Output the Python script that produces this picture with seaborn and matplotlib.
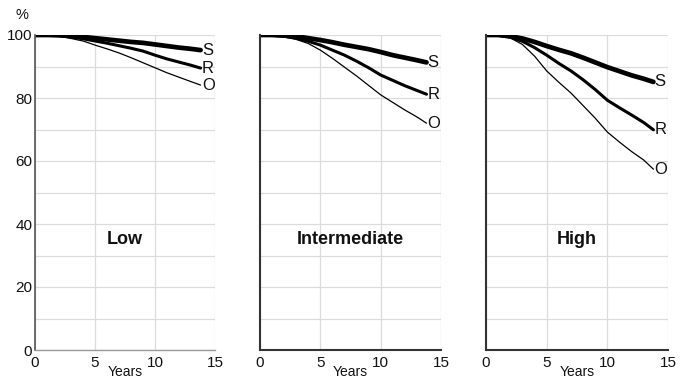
import matplotlib
matplotlib.use("Agg")
import matplotlib.pyplot as plt
import seaborn as sns
import pandas as pd

years = [0, 1, 2, 3, 4, 5, 6, 7, 8, 9, 10, 11, 12, 13, 13.8]

low_S = [100, 100, 99.9, 99.7, 99.4, 99.0, 98.6, 98.2, 97.8, 97.5, 97.0, 96.5, 96.0, 95.6, 95.2]
low_R = [100, 100, 99.8, 99.4, 98.8, 98.1, 97.4, 96.6, 95.8, 94.9, 93.6, 92.4, 91.4, 90.4, 89.5]
low_O = [100, 100, 99.6, 98.9, 98.1, 96.8, 95.6, 94.3, 92.8, 91.2, 89.6, 88.0, 86.6, 85.2, 84.1]

int_S = [100, 100, 99.8, 99.6, 99.0, 98.4, 97.7, 96.9, 96.2, 95.5, 94.6, 93.6, 92.8, 92.0, 91.3]
int_R = [100, 99.9, 99.6, 99.0, 98.0, 96.8, 95.2, 93.6, 91.7, 89.6, 87.3, 85.6, 83.9, 82.4, 81.2]
int_O = [100, 99.9, 99.4, 98.6, 97.3, 95.2, 92.6, 89.8, 87.0, 84.0, 81.0, 78.6, 76.2, 74.0, 72.0]

high_S = [100, 100, 99.6, 98.9, 97.8, 96.5, 95.3, 94.2, 92.8, 91.3, 89.8, 88.5, 87.2, 86.1, 85.1]
high_R = [100, 99.9, 99.3, 98.0, 96.0, 93.6, 91.0, 88.6, 85.8, 82.7, 79.3, 76.9, 74.6, 72.2, 69.9]
high_O = [100, 99.8, 99.1, 97.0, 93.3, 88.6, 85.0, 81.6, 77.6, 73.6, 69.2, 66.0, 63.0, 60.3, 57.4]

panels = ["Low", "Intermediate", "High"]
series_names = ["S", "R", "O"]
data = {
    "Low": [low_S, low_R, low_O],
    "Intermediate": [int_S, int_R, int_O],
    "High": [high_S, high_R, high_O],
}
x_ticks = [0, 5, 10, 15]
y_ticks = [0, 20, 40, 60, 80, 100]

sns.set_theme(style="white")
plt.rcParams["font.family"] = ["Liberation Sans", "DejaVu Sans"]

fig = plt.figure(figsize=(6.85, 3.8), dpi=100)
lefts = [35, 260, 486]
widths = [180, 181, 182]
bottom = 1 - 350 / 380
height = (350 - 35) / 380

line_w = {"S": 3.4, "R": 2.2, "O": 0.9}

for i, name in enumerate(panels):
    ax = fig.add_axes([lefts[i] / 685, bottom, widths[i] / 685, height])
    for sname, vals in zip(series_names, data[name]):
        df = pd.DataFrame({"Years": years, "Value": vals})
        sns.lineplot(data=df, x="Years", y="Value", ax=ax, color="black",
                     lw=line_w[sname])
        ax.text(years[-1] + 0.1, vals[-1], sname, fontsize=12, ha="left",
                va="center", color="#111111")
    ax.set_xlim(0, 15)
    ax.set_ylim(0, 100)
    ax.set_xticks(x_ticks)
    ax.set_yticks(range(0, 101, 10))
    ax.grid(True, color="#dcdcdc", lw=0.9)
    ax.set_axisbelow(True)
    ax.tick_params(axis="y", length=0, pad=2, labelsize=11, colors="#111111")
    ax.tick_params(axis="x", length=0, pad=4, labelsize=11, colors="#111111")
    ax.set_xticklabels([str(t) for t in x_ticks])
    if i == 0:
        ax.set_yticklabels([str(v) if v in y_ticks else "" for v in range(0, 101, 10)])
    else:
        ax.set_yticklabels([])
    ax.set_ylabel("")
    ax.set_xlabel("Years", fontsize=10, labelpad=-3.5, color="#111111")
    for s in ["top", "right"]:
        ax.spines[s].set_visible(False)
    if i == 0:
        ax.spines["left"].set_color("#555555")
        ax.spines["left"].set_linewidth(1.2)
        ax.spines["bottom"].set_color("#999999")
        ax.spines["bottom"].set_linewidth(1.0)
    else:
        ax.spines["left"].set_color("#333333")
        ax.spines["left"].set_linewidth(1.5)
        ax.spines["bottom"].set_color("#333333")
        ax.spines["bottom"].set_linewidth(1.5)
    ax.text(7.5, 35, name, fontsize=13, fontweight="bold", ha="center",
            va="center", color="#111111")

fig.text(22 / 685, 1 - 15 / 380, "%", fontsize=10.5, ha="center", va="center",
         color="#111111")

fig.savefig("out.png", dpi=100)
